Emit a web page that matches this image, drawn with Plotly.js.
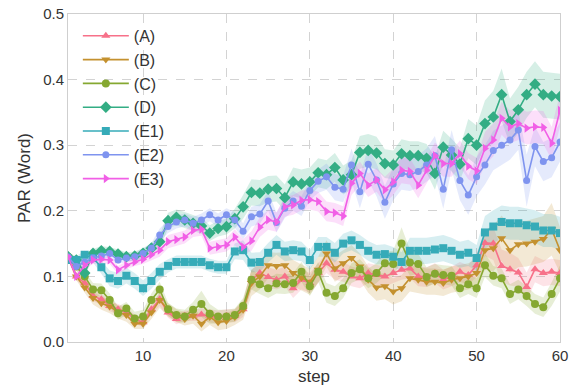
<!DOCTYPE html>
<html><head><meta charset="utf-8">
<script src="https://cdn.plot.ly/plotly-3.0.1.min.js"></script>
<style>html,body{margin:0;padding:0;background:#fff}#chart{width:575px;height:388px}</style>
</head><body><div id="chart"></div>
<script>
const steps = [1,2,3,4,5,6,7,8,9,10,11,12,13,14,15,16,17,18,19,20,21,22,23,24,25,26,27,28,29,30,31,32,33,34,35,36,37,38,39,40,41,42,43,44,45,46,47,48,49,50,51,52,53,54,55,56,57,58,59,60];
const seriesNames = ["(A)","(B)","(C)","(D)","(E1)","(E2)","(E3)"];
const xTicks = [10,20,30,40,50,60];
const yTicks = [0,0.1,0.2,0.3,0.4,0.5];

const valA = [0.13,0.10,0.09,0.07,0.065,0.055,0.05,0.045,0.035,0.03,0.05,0.065,0.045,0.035,0.04,0.04,0.042,0.04,0.038,0.04,0.04,0.05,0.095,0.105,0.099,0.095,0.1,0.082,0.095,0.09,0.105,0.12,0.11,0.107,0.1,0.097,0.105,0.102,0.1,0.105,0.11,0.112,0.1,0.099,0.105,0.095,0.1,0.107,0.102,0.117,0.151,0.15,0.116,0.111,0.106,0.084,0.111,0.105,0.107,0.105];
const valB = [0.13,0.10,0.083,0.067,0.059,0.054,0.046,0.041,0.028,0.028,0.045,0.064,0.049,0.04,0.035,0.04,0.028,0.038,0.03,0.032,0.038,0.049,0.09,0.1,0.117,0.116,0.117,0.105,0.098,0.092,0.11,0.135,0.112,0.12,0.128,0.115,0.095,0.083,0.085,0.077,0.082,0.097,0.095,0.092,0.092,0.09,0.095,0.097,0.1,0.105,0.14,0.143,0.158,0.14,0.149,0.15,0.153,0.157,0.172,0.14];
const valC = [0.13,0.115,0.10,0.08,0.079,0.064,0.044,0.051,0.036,0.039,0.064,0.08,0.05,0.041,0.039,0.049,0.058,0.043,0.039,0.039,0.041,0.055,0.095,0.088,0.082,0.089,0.088,0.09,0.107,0.085,0.107,0.075,0.07,0.082,0.105,0.111,0.097,0.105,0.12,0.119,0.15,0.121,0.119,0.099,0.104,0.102,0.101,0.082,0.088,0.082,0.117,0.101,0.097,0.073,0.08,0.07,0.058,0.053,0.073,0.097];
const valD = [0.13,0.125,0.105,0.135,0.139,0.138,0.134,0.130,0.131,0.135,0.143,0.153,0.185,0.19,0.186,0.181,0.177,0.166,0.173,0.176,0.188,0.206,0.228,0.227,0.233,0.234,0.22,0.244,0.241,0.244,0.258,0.255,0.266,0.247,0.255,0.289,0.292,0.288,0.272,0.27,0.287,0.284,0.284,0.28,0.257,0.297,0.285,0.271,0.31,0.30,0.333,0.343,0.377,0.336,0.354,0.377,0.393,0.377,0.375,0.374];
const valE1 = [0.125,0.125,0.133,0.128,0.114,0.097,0.093,0.101,0.093,0.082,0.093,0.107,0.116,0.122,0.122,0.122,0.122,0.117,0.114,0.114,0.138,0.14,0.121,0.122,0.136,0.148,0.138,0.14,0.138,0.125,0.145,0.145,0.136,0.15,0.155,0.148,0.139,0.133,0.134,0.13,0.122,0.139,0.139,0.139,0.141,0.143,0.139,0.133,0.136,0.128,0.167,0.176,0.183,0.181,0.181,0.178,0.176,0.17,0.17,0.166];
const valE2 = [0.13,0.115,0.122,0.128,0.131,0.135,0.125,0.128,0.13,0.135,0.143,0.163,0.176,0.183,0.186,0.181,0.186,0.194,0.186,0.194,0.186,0.169,0.191,0.195,0.215,0.182,0.204,0.215,0.207,0.231,0.245,0.252,0.236,0.233,0.27,0.229,0.271,0.247,0.213,0.241,0.257,0.255,0.26,0.27,0.284,0.233,0.293,0.246,0.224,0.252,0.27,0.292,0.30,0.308,0.323,0.246,0.298,0.275,0.281,0.305];
const valE3 = [0.13,0.10,0.117,0.125,0.126,0.125,0.11,0.117,0.122,0.126,0.133,0.14,0.153,0.156,0.16,0.17,0.172,0.143,0.145,0.148,0.16,0.145,0.154,0.175,0.186,0.183,0.206,0.209,0.216,0.217,0.214,0.199,0.197,0.192,0.242,0.257,0.239,0.247,0.232,0.244,0.262,0.26,0.239,0.262,0.284,0.272,0.272,0.287,0.268,0.261,0.295,0.308,0.341,0.328,0.333,0.326,0.328,0.327,0.303,0.353];

const bandA = [0.004,0.006,0.007,0.008,0.008,0.008,0.008,0.008,0.007,0.007,0.008,0.01,0.008,0.008,0.008,0.008,0.01,0.01,0.01,0.01,0.01,0.012,0.015,0.015,0.015,0.015,0.015,0.015,0.015,0.015,0.015,0.015,0.015,0.015,0.015,0.015,0.015,0.015,0.015,0.015,0.015,0.015,0.015,0.015,0.015,0.015,0.015,0.015,0.015,0.018,0.02,0.025,0.025,0.025,0.022,0.022,0.02,0.02,0.02,0.02];
const bandB = [0.004,0.006,0.008,0.01,0.01,0.01,0.01,0.01,0.008,0.008,0.01,0.012,0.01,0.01,0.01,0.012,0.012,0.012,0.012,0.012,0.012,0.015,0.02,0.02,0.02,0.02,0.02,0.02,0.02,0.02,0.02,0.02,0.02,0.02,0.02,0.02,0.02,0.02,0.02,0.02,0.02,0.02,0.02,0.02,0.02,0.02,0.02,0.02,0.02,0.022,0.03,0.035,0.035,0.035,0.035,0.035,0.035,0.035,0.04,0.035];
const bandC = [0.004,0.006,0.008,0.01,0.01,0.01,0.01,0.01,0.01,0.01,0.01,0.012,0.01,0.01,0.01,0.012,0.02,0.015,0.01,0.01,0.01,0.012,0.015,0.015,0.015,0.015,0.015,0.015,0.015,0.015,0.015,0.015,0.015,0.015,0.015,0.015,0.015,0.015,0.018,0.02,0.025,0.02,0.015,0.015,0.015,0.015,0.015,0.015,0.015,0.015,0.018,0.015,0.015,0.015,0.015,0.015,0.015,0.015,0.018,0.02];
const bandD = [0.005,0.006,0.006,0.007,0.007,0.007,0.007,0.007,0.007,0.008,0.008,0.01,0.012,0.012,0.012,0.012,0.012,0.012,0.012,0.012,0.015,0.018,0.02,0.02,0.02,0.02,0.02,0.022,0.022,0.022,0.022,0.022,0.022,0.022,0.022,0.025,0.025,0.025,0.022,0.022,0.022,0.022,0.022,0.022,0.025,0.025,0.025,0.025,0.03,0.03,0.035,0.04,0.04,0.035,0.035,0.035,0.035,0.035,0.035,0.035];
const bandE1 = [0.005,0.006,0.006,0.007,0.01,0.012,0.012,0.012,0.012,0.012,0.012,0.012,0.01,0.01,0.01,0.01,0.01,0.01,0.01,0.01,0.012,0.015,0.015,0.015,0.015,0.015,0.015,0.015,0.015,0.015,0.015,0.015,0.015,0.015,0.015,0.015,0.015,0.015,0.015,0.015,0.015,0.02,0.02,0.02,0.02,0.02,0.02,0.02,0.02,0.02,0.025,0.025,0.025,0.025,0.025,0.025,0.025,0.025,0.025,0.025];
const bandE2 = [0.005,0.006,0.006,0.006,0.006,0.006,0.006,0.006,0.006,0.007,0.008,0.01,0.01,0.01,0.01,0.01,0.01,0.01,0.01,0.01,0.012,0.012,0.015,0.015,0.015,0.015,0.015,0.015,0.015,0.015,0.018,0.02,0.02,0.02,0.025,0.025,0.025,0.025,0.025,0.025,0.025,0.025,0.025,0.025,0.03,0.03,0.03,0.03,0.03,0.03,0.03,0.03,0.03,0.03,0.03,0.04,0.03,0.03,0.03,0.03];
const bandE3 = [0.005,0.006,0.006,0.006,0.006,0.006,0.006,0.006,0.006,0.007,0.008,0.01,0.01,0.01,0.01,0.01,0.01,0.01,0.01,0.01,0.012,0.012,0.015,0.015,0.015,0.015,0.015,0.015,0.015,0.015,0.015,0.015,0.015,0.015,0.018,0.018,0.018,0.018,0.02,0.02,0.02,0.02,0.02,0.02,0.02,0.02,0.02,0.02,0.02,0.02,0.025,0.025,0.025,0.025,0.025,0.025,0.025,0.025,0.025,0.025];

const seriesVals = [valA,valB,valC,valD,valE1,valE2,valE3];
const seriesBands = [bandA,bandB,bandC,bandD,bandE1,bandE2,bandE3];
const colors = ["#f77189","#c4912f","#85a831","#33ad84","#36abb8","#7f94ef","#f15fe6"];
const fills = ["rgba(247,113,137,0.2)","rgba(196,145,47,0.2)","rgba(133,168,49,0.2)","rgba(51,173,132,0.2)","rgba(54,171,184,0.2)","rgba(127,148,239,0.2)","rgba(241,95,230,0.2)"];
const symbols = ["triangle-up","triangle-down","circle","diamond","square","circle","triangle-right"];
const sizes = [8,8,8,9,8,7,8];

const traces = [];
seriesVals.forEach((v,k)=>{
  const b = seriesBands[k];
  const upper = v.map((y,i)=>y+b[i]);
  const lower = v.map((y,i)=>y-b[i]);
  traces.push({x: steps.concat(steps.slice().reverse()), y: upper.concat(lower.slice().reverse()),
    type:'scatter', mode:'lines', fill:'toself', fillcolor: fills[k], line:{width:0}, hoverinfo:'skip', showlegend:false});
});
seriesVals.forEach((v,k)=>{
  traces.push({x: steps, y: v, type:'scatter', mode:'lines+markers', name: seriesNames[k],
    line:{color: colors[k], width:1.6}, marker:{symbol: symbols[k], size: sizes[k], color: colors[k]}});
});

const layout = {
  width:575, height:388,
  margin:{l:68, r:15, t:14, b:46},
  paper_bgcolor:'#fff', plot_bgcolor:'#fff',
  font:{family:'"Liberation Sans", Arial, sans-serif', color:'#333', size:15},
  showlegend:true,
  legend:{x:0.02, y:0.985, xanchor:'left', yanchor:'top', bgcolor:'rgba(255,255,255,0)', font:{size:16, color:'#333'}, itemwidth:46, tracegroupgap:0},
  xaxis:{range:[1,60], tickvals:xTicks, showgrid:true, gridcolor:'#d3d3d3', griddash:'dash', gridwidth:1,
    showline:true, mirror:true, linecolor:'#cfcfcf', linewidth:1, zeroline:false, ticks:'',
    tickfont:{size:15, color:'#333'}, title:{text:'step', font:{size:17, color:'#333'}, standoff:7}},
  yaxis:{range:[0,0.5], tickvals:yTicks, tickformat:'.1f', showgrid:true, gridcolor:'#d3d3d3', griddash:'dash', gridwidth:1,
    showline:true, mirror:true, linecolor:'#cfcfcf', linewidth:1, zeroline:false, ticks:'',
    tickfont:{size:15, color:'#333'}, title:{text:'PAR (Word)', font:{size:17, color:'#333'}, standoff:8}}
};
Plotly.newPlot('chart', traces, layout, {displayModeBar:false, staticPlot:true});
</script></body></html>
